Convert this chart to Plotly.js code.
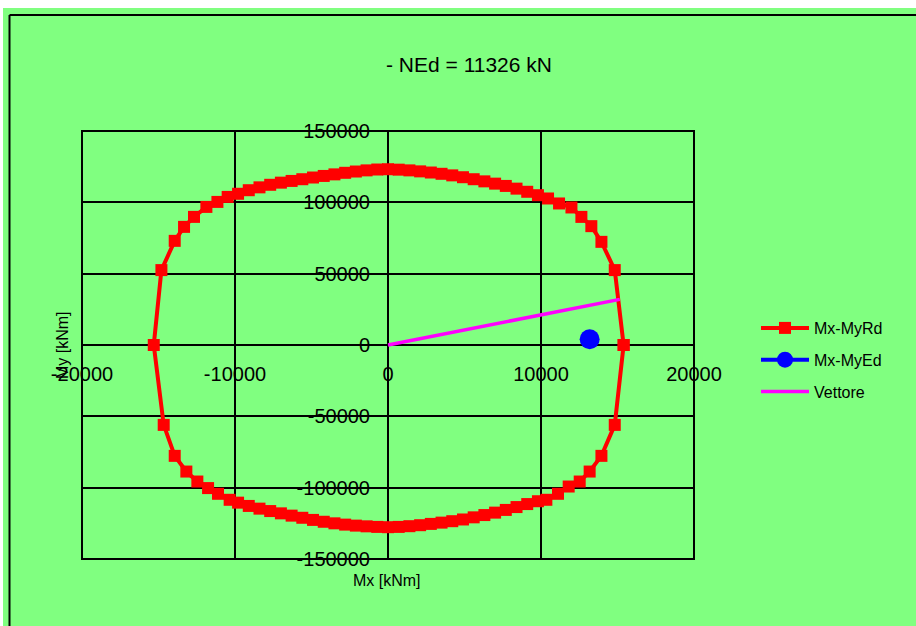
<!DOCTYPE html>
<html>
<head>
<meta charset="utf-8">
<script src="https://cdn.plot.ly/plotly-3.0.1.min.js"></script>
<style>
html,body{margin:0;padding:0;background:#ffffff;}
#chart{position:absolute;left:0;top:0;width:916px;height:626px;}
</style>
</head>
<body>
<div id="chart"></div>
<script>
// Interaction domain Mx-MyRd (kNm)
const mxRd = [15400,14820,13950,13290,12640,11990,11180,10460,
  9800,9100,8400,7700,7000,6300,5600,4900,4200,3500,2800,2100,1400,700,0,
  -700,-1400,-2100,-2800,-3500,-4200,-4900,-5600,-6300,-7000,-7700,-8400,-9100,-9800,
  -10480,-11150,-11870,-12680,-13330,-13940,-14810,-15310,
  -14660,-13940,-13180,-12460,-11760,-11110,-10350,
  -9800,-9100,-8400,-7700,-7000,-6300,-5600,-4900,-4200,-3500,-2800,-2100,-1400,-700,0,
  700,1400,2100,2800,3500,4200,4900,5600,6300,7000,7700,8400,9100,9800,
  10350,11110,11810,12530,13180,13950,14820,15400];
const myRd = [0,52500,72300,83300,89800,96400,99200,102700,
  105000,107400,109600,111500,113100,114700,116200,117600,118900,120000,120900,121700,122400,122900,123200,
  123000,122400,121600,120700,119600,118500,117400,116200,115000,113800,112300,110500,108500,106000,
  103800,100300,96800,89800,82800,73000,52500,0,
  -56000,-77700,-88700,-95700,-100300,-104300,-108500,
  -110500,-112800,-114700,-116400,-118000,-119600,-121100,-122600,-123900,-125000,-125900,-126600,-127100,-127500,-127700,
  -127500,-127000,-126300,-125400,-124500,-123500,-122300,-120800,-119200,-117500,-115600,-113600,-111500,-109500,
  -108500,-104300,-99200,-95700,-88700,-77700,-56000,0];
// Design point Mx-MyEd
const mxEd = [13180];
const myEd = [4000];
// Vector
const vettX = [0, 15150];
const vettY = [0, 32000];
// Axis ticks
const xTicks = [-20000,-10000,0,10000,20000];
const yTicks = [-150000,-100000,-50000,0,50000,100000,150000];

const FONT = '"Liberation Sans", Arial, sans-serif';
const GREEN = '#80FF80';

const traces = [
  {x: mxRd, y: myRd, name: 'Mx-MyRd', type: 'scatter', mode: 'lines+markers',
   line: {color: '#FF0000', width: 4}, marker: {color: '#FF0000', symbol: 'square', size: 12},
   legendgroup: 'a', cliponaxis: false},
  {x: mxEd, y: myEd, name: 'Mx-MyEd', type: 'scatter', mode: 'lines+markers',
   line: {color: '#0000FF', width: 4}, marker: {color: '#0000FF', symbol: 'circle', size: 20},
   legendgroup: 'b'},
  {x: vettX, y: vettY, name: 'Vettore', type: 'scatter', mode: 'lines',
   line: {color: '#FF00FF', width: 3.5}, legendgroup: 'c'}
];

// paper coords helpers (plot area: x 82..694, y 131..559 px)
const L = 82, W = 612, T = 131, H = 428;
const px = v => (v - L) / W;
const py = v => (T + H - v) / H;

const layout = {
  width: 916, height: 626,
  margin: {l: L, r: 916 - L - W, t: T, b: 626 - T - H, pad: 0},
  paper_bgcolor: GREEN, plot_bgcolor: GREEN,
  font: {family: FONT, color: '#000000', size: 16},
  title: {text: '- NEd = 11326 kN', font: {family: FONT, size: 21, color: '#000000'},
          xref: 'container', x: 469/916, xanchor: 'center',
          yref: 'container', y: 1 - 65/626, yanchor: 'middle'},
  showlegend: true,
  legend: {x: px(756), xanchor: 'left', y: py(311), yanchor: 'top',
           bgcolor: 'rgba(0,0,0,0)', font: {family: FONT, size: 16, color: '#000000'},
           traceorder: 'grouped', tracegroupgap: 8, itemsizing: 'trace', itemwidth: 48},
  xaxis: {range: [-20000, 20000], tickvals: xTicks, ticktext: xTicks.map(String),
          showgrid: true, gridcolor: '#000000', gridwidth: 2, zeroline: false,
          showline: false, ticks: '', anchor: 'free', position: 0.5,
          ticklabelstandoff: 15, tickfont: {family: FONT, size: 20, color: '#000000'},
          fixedrange: true},
  yaxis: {range: [-150000, 150000], tickvals: yTicks, ticktext: yTicks.map(String),
          showgrid: true, gridcolor: '#000000', gridwidth: 2, zeroline: false,
          showline: false, ticks: '', anchor: 'free', position: 0.5,
          ticklabelstandoff: 18, tickfont: {family: FONT, size: 20, color: '#000000'},
          fixedrange: true},
  annotations: [
    {text: 'My [kNm]', xref: 'paper', yref: 'paper', x: px(62), y: 0.5, textangle: -90,
     showarrow: false, xanchor: 'center', yanchor: 'middle', font: {family: FONT, size: 16}},
    {text: 'Mx [kNm]', xref: 'paper', yref: 'paper', x: px(387), y: py(580),
     showarrow: false, xanchor: 'center', yanchor: 'middle', font: {family: FONT, size: 16}}
  ],
  shapes: [
    // white strip at top and left of page
    {type: 'rect', xref: 'paper', yref: 'paper', x0: px(-2), x1: px(918), y0: py(8), y1: py(-2),
     fillcolor: '#ffffff', line: {width: 0}, layer: 'below'},
    {type: 'rect', xref: 'paper', yref: 'paper', x0: px(-2), x1: px(3), y0: py(628), y1: py(-2),
     fillcolor: '#ffffff', line: {width: 0}, layer: 'below'},
    // frame border (top and left)
    {type: 'line', xref: 'paper', yref: 'paper', x0: px(9.5), x1: px(918), y0: py(15), y1: py(15),
     line: {color: '#000000', width: 2}, layer: 'below'},
    {type: 'line', xref: 'paper', yref: 'paper', x0: px(9.5), x1: px(9.5), y0: py(15), y1: py(628),
     line: {color: '#000000', width: 2}, layer: 'below'},
    // plot area box
    {type: 'rect', xref: 'paper', yref: 'paper', x0: 0, x1: 1, y0: 0, y1: 1,
     line: {color: '#000000', width: 2}, layer: 'below'}
  ]
};

Plotly.newPlot('chart', traces, layout, {staticPlot: true, displayModeBar: false});
</script>
</body>
</html>
